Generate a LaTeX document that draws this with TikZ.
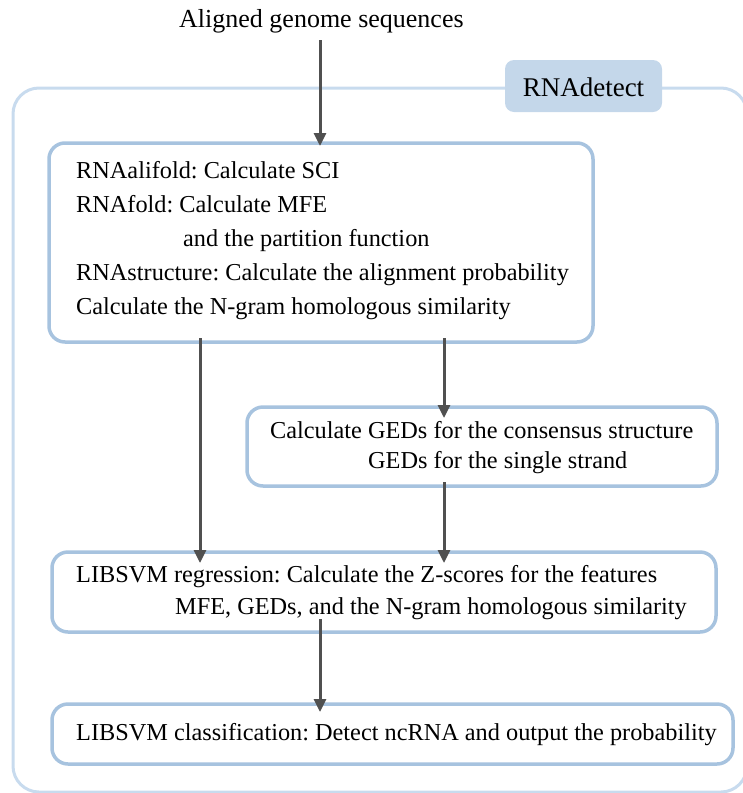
\documentclass[tikz,border=0pt]{standalone}
\usepackage{fontspec}
\setmainfont{Liberation Serif}
\usetikzlibrary{arrows.meta}
\definecolor{framecol}{HTML}{C8DBEE}
\definecolor{boxcol}{HTML}{A7C3DF}
\definecolor{tagfill}{HTML}{C4D7EA}
\definecolor{arrowcol}{HTML}{505050}
\tikzset{
  stepbox/.style={draw=boxcol, line width=3.5pt, rounded corners=16pt, fill=white},
  frame/.style={draw=framecol, line width=3pt, rounded corners=26pt},
  tag/.style={fill=tagfill, rounded corners=9pt, inner sep=0pt},
  txt/.style={anchor=base west, inner sep=0pt, font=\fontsize{24.3}{28}\selectfont},
  flow/.style={draw=arrowcol, line width=3pt, -{Triangle[length=13pt,width=12pt]}}
}
\begin{document}
\frenchspacing
\begin{tikzpicture}[x=1pt,y=-1pt]
\useasboundingbox (0,0) rectangle (743,793);
% outer frame of the RNAdetect pipeline
\draw[frame] (13,792) -- (13,88) -- (747,88) -- (747,792) -- cycle;
\node[tag, minimum width=157pt, minimum height=52pt] (tag) at (583.5,86) {};
\node[font=\fontsize{27}{32}\selectfont, inner sep=0pt] (tagtxt) at (583.5,87) {RNAdetect};

% step boxes
\draw[stepbox] (49,143) rectangle (593,342);
\coordinate (b1top) at (320,143);
\coordinate (b1l) at (200,342);
\coordinate (b1r) at (444,342);
\draw[stepbox] (247,407) rectangle (717,486);
\coordinate (b2top) at (444,407);
\coordinate (b2bot) at (444,486);
\draw[stepbox] (52,552) rectangle (716,632);
\coordinate (b3topl) at (200,552);
\coordinate (b3topr) at (444,552);
\coordinate (b3bot) at (320,632);
\draw[stepbox] (52,704) rectangle (733,764);
\coordinate (b4top) at (320,704);

% texts
\node[txt, font=\fontsize{26}{30}\selectfont] (in) at (179,27) {Aligned genome sequences};
\node[txt] (l1) at (76,178) {RNAalifold: Calculate SCI};
\node[txt] (l2) at (76,212) {RNAfold: Calculate MFE};
\node[txt] (l3) at (183,246) {and the partition function};
\node[txt] (l4) at (76,280) {RNAstructure: Calculate the alignment probability};
\node[txt] (l5) at (76,314) {Calculate the N-gram homologous similarity};
\node[txt] (g1) at (270,438) {Calculate GEDs for the consensus structure};
\node[txt] (g2) at (368,468) {GEDs for the single strand};
\node[txt] (r1) at (76,582) {LIBSVM regression: Calculate the Z-scores for the features};
\node[txt] (r2) at (175,614) {MFE, GEDs, and the N-gram homologous similarity};
\node[txt] (c1) at (76,740) {LIBSVM classification: Detect ncRNA and output the probability};

% connectors
\coordinate (src) at (320,40);
\draw[flow] (src) -- ([yshift=-3pt]b1top);
\draw[flow] ([yshift=4pt]b1l) -- ([yshift=-11pt]b3topl);
\draw[flow] ([yshift=4pt]b1r) -- ([yshift=-11pt]b2top);
\draw[flow] ([yshift=4pt]b2bot) -- ([yshift=-11pt]b3topr);
\draw[flow] ([yshift=13pt]b3bot) -- ([yshift=-8pt]b4top);
\end{tikzpicture}
\end{document}
